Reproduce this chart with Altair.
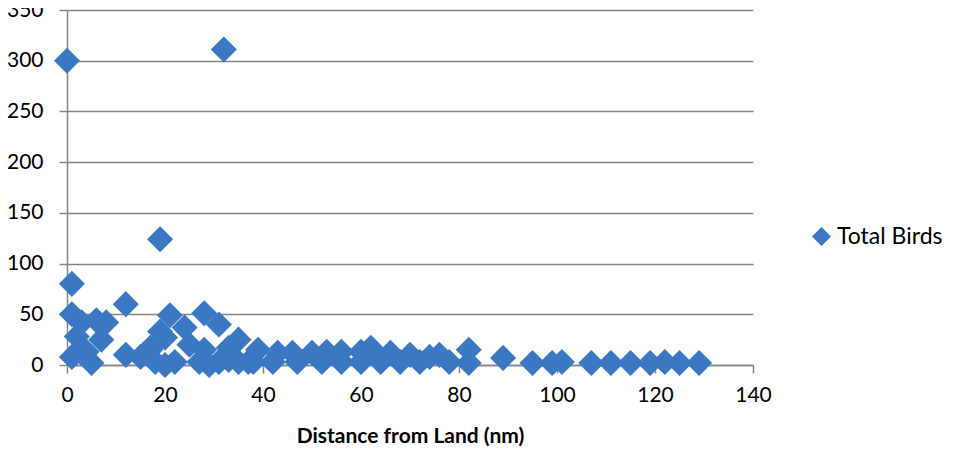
import altair as alt
import pandas as pd

# Distance from land (nm) and total birds counted
distance = [0, 32, 19, 1, 1, 12, 3, 6, 8, 2, 7, 1, 4, 5, 12, 15, 17,
            21, 28, 19, 24, 31, 35, 20, 25, 17, 28, 33, 39,
            18, 22, 27, 31, 35, 38, 20, 29,
            43, 46, 50, 53, 56, 60, 62, 66, 70, 74, 76, 82,
            33, 37, 42, 47, 52, 56, 60, 64, 68, 72, 78, 82,
            89, 95, 99, 101, 107, 111, 115, 119, 122, 125, 129]
birds = [300, 311, 124, 80, 50, 60, 42, 44, 42, 28, 25, 8, 13, 2, 10, 8, 17,
         49, 51, 33, 37, 40, 25, 27, 20, 15, 15, 17, 15,
         3, 3, 3, 3, 3, 3, 0, 0,
         12, 12, 12, 13, 13, 13, 17, 12, 10, 8, 10, 15,
         5, 3, 3, 3, 3, 3, 3, 3, 3, 3, 3, 2,
         7, 2, 2, 3, 2, 2, 2, 2, 3, 2, 2]
series_name = "Total Birds"
x_ticks = [0, 20, 40, 60, 80, 100, 120, 140]
y_ticks = [0, 50, 100, 150, 200, 250, 300, 350]

df = pd.DataFrame({"distance": distance, "birds": birds,
                   "series": [series_name] * len(distance)})

FONT = "Lato"
GRID = "#858585"
BLUE = "#3b78c4"

chart = alt.Chart(df).mark_point(
    shape="diamond", filled=True, size=680, opacity=1, strokeWidth=0
).encode(
    x=alt.X("distance:Q",
            scale=alt.Scale(domain=[0, 140], nice=False, zero=True),
            axis=alt.Axis(values=x_ticks, grid=False, title="Distance from Land (nm)",
                          titleFontWeight="bold", titleFontSize=21, titlePadding=20,
                          labelFontSize=21, tickSize=8, labelPadding=11,
                          labelFlush=False)),
    y=alt.Y("birds:Q",
            scale=alt.Scale(domain=[0, 350], nice=False),
            axis=alt.Axis(values=y_ticks, grid=True, title=None,
                          labelFontSize=21, tickSize=8, labelPadding=16,
                          labelFlush=False)),
    color=alt.Color("series:N",
                    scale=alt.Scale(range=[BLUE]),
                    legend=alt.Legend(title=None, orient="none", legendX=743, legendY=215,
                                      labelFontSize=23, symbolSize=360, symbolType="diamond",
                                      symbolStrokeWidth=0, labelOffset=4)),
).properties(
    width=686, height=355,
    padding={"left": 59, "top": 2, "right": 192, "bottom": 84},
    autosize="none",
).configure_view(
    stroke=None
).configure_axis(
    domainColor=GRID, tickColor=GRID, gridColor=GRID,
    domainWidth=1.5, tickWidth=1.5, gridWidth=1.5,
    labelFont=FONT, titleFont=FONT, labelColor="#000000", titleColor="#000000",
).configure_legend(
    labelFont=FONT, labelColor="#000000"
)

chart.save("out.html", embed_options={"renderer": "svg", "actions": False})
